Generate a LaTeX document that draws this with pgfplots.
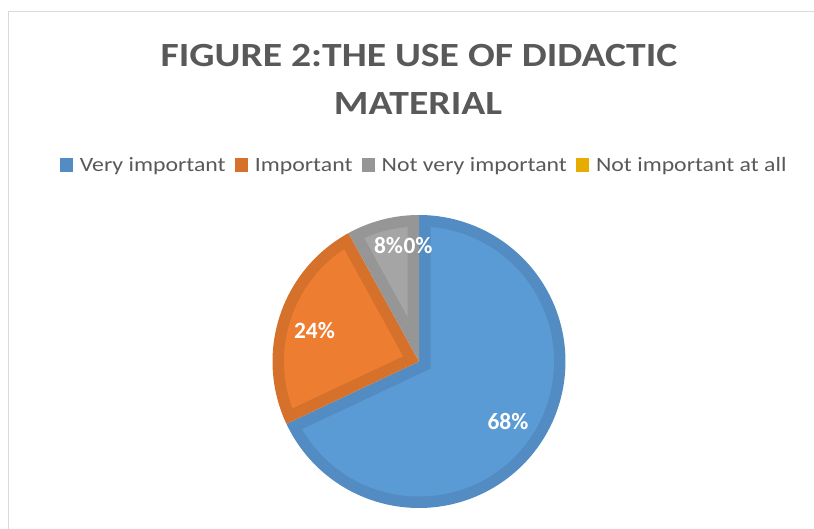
\documentclass[border=0pt]{standalone}
\usepackage{fontspec}
\setmainfont{Carlito}
\newfontfamily\stretchfont{Carlito}[FakeStretch=1.17]
\usepackage{pgfplots}
\pgfplotsset{compat=1.18}
\definecolor{blueL}{HTML}{5B9BD5}
\definecolor{blueD}{HTML}{528CC2}
\definecolor{orangeL}{HTML}{ED7D31}
\definecolor{orangeD}{HTML}{D6712C}
\definecolor{grayL}{HTML}{A5A5A5}
\definecolor{grayD}{HTML}{969696}
\definecolor{goldL}{HTML}{FFC000}
\definecolor{goldD}{HTML}{E6AD00}
\definecolor{textgray}{HTML}{595959}
\definecolor{framegray}{HTML}{D9D9D9}
% data (percent)
\def\vA{68}\def\vB{24}\def\vC{8}\def\vD{0}
% pie geometry (bp)
\def\cx{419}\def\cy{167.5}\def\R{146.5}\def\d{11.5}
\pgfmathsetmacro\aZ{90}
\pgfmathsetmacro\aA{90-3.6*\vA}
\pgfmathsetmacro\aB{\aA-3.6*\vB}
\pgfmathsetmacro\aC{\aB-3.6*\vC}
\pgfmathsetmacro\dl{asin(\d/(\R-\d))}
\pgfmathsetmacro\Ri{\R-\d}
% inset apex per slice
\pgfmathsetmacro\pAd{\d/sin((\aZ-\aA)/2)}\pgfmathsetmacro\pAp{(\aZ+\aA)/2}
\pgfmathsetmacro\pAx{\cx+\pAd*cos(\pAp)}\pgfmathsetmacro\pAy{\cy+\pAd*sin(\pAp)}
\pgfmathsetmacro\pBd{\d/sin((\aA-\aB)/2)}\pgfmathsetmacro\pBp{(\aA+\aB)/2}
\pgfmathsetmacro\pBx{\cx+\pBd*cos(\pBp)}\pgfmathsetmacro\pBy{\cy+\pBd*sin(\pBp)}
\pgfmathsetmacro\pCd{\d/sin((\aB-\aC)/2)}\pgfmathsetmacro\pCp{(\aB+\aC)/2}
\pgfmathsetmacro\pCx{\cx+\pCd*cos(\pCp)}\pgfmathsetmacro\pCy{\cy+\pCd*sin(\pCp)}
\pgfmathsetmacro\lAa{\aA+\dl}\pgfmathsetmacro\lAb{\aZ-\dl}
\pgfmathsetmacro\lBa{\aB+\dl}\pgfmathsetmacro\lBb{\aA-\dl}
\pgfmathsetmacro\lCa{\aC+\dl}\pgfmathsetmacro\lCb{\aB-\dl}
\begin{document}
\begin{tikzpicture}
\useasboundingbox (0,0) rectangle (814bp,529bp);
\clip (0,0) rectangle (814bp,529bp);
\fill[white] (0,0) rectangle (814bp,529bp);
\begin{axis}[x=1bp,y=1bp,xmin=0,xmax=814,ymin=0,ymax=529,
  scale only axis, hide axis, clip=false, anchor=south west, at={(0,0)},
  legend columns=4,
  legend image code/.code={\draw[#1,draw=none] (0bp,-6.65bp) rectangle (13.3bp,6.65bp);},
  legend style={draw=none, fill=none, inner sep=0pt, outer sep=0pt,
    column sep=6.6bp, at={(axis cs:423.3,364)}, anchor=center,
    nodes={inner sep=0pt, outer sep=0pt, text=textgray, text height=17.4bp, text depth=4bp,
      font=\stretchfont\fontsize{20.4}{24}\selectfont},
    /tikz/every even column/.append style={column sep=9.3bp}},
  ]
\draw[framegray, line width=1.3bp] (axis cs:8.5,-20) -- (axis cs:8.5,517.3) -- (axis cs:840,517.3);
% slices
\addplot[forget plot, fill=blueD, draw=none, domain=\aA:\aZ, samples=160]
  ({\cx+\R*cos(x)},{\cy+\R*sin(x)}) -- (axis cs:\cx,\cy) -- cycle;
\addplot[forget plot, fill=blueL, draw=none, domain=\lAa:\lAb, samples=160]
  ({\cx+\Ri*cos(x)},{\cy+\Ri*sin(x)}) -- (axis cs:\pAx,\pAy) -- cycle;
\addplot[forget plot, fill=orangeD, draw=none, domain=\aB:\aA, samples=80]
  ({\cx+\R*cos(x)},{\cy+\R*sin(x)}) -- (axis cs:\cx,\cy) -- cycle;
\addplot[forget plot, fill=orangeL, draw=none, domain=\lBa:\lBb, samples=80]
  ({\cx+\Ri*cos(x)},{\cy+\Ri*sin(x)}) -- (axis cs:\pBx,\pBy) -- cycle;
\addplot[forget plot, fill=grayD, draw=none, domain=\aC:\aB, samples=40]
  ({\cx+\R*cos(x)},{\cy+\R*sin(x)}) -- (axis cs:\cx,\cy) -- cycle;
\addplot[forget plot, fill=grayL, draw=none, domain=\lCa:\lCb, samples=40]
  ({\cx+\Ri*cos(x)},{\cy+\Ri*sin(x)}) -- (axis cs:\pCx,\pCy) -- cycle;
% legend
\addlegendimage{fill=blueD}\addlegendentry{Very important}
\addlegendimage{fill=orangeD}\addlegendentry{Important}
\addlegendimage{fill=grayD}\addlegendentry{Not very important}
\addlegendimage{fill=goldD}\addlegendentry{Not important at all}
% labels
\begin{scope}[every node/.style={anchor=base, text=white, font=\bfseries\fontsize{23.5}{28}\selectfont, inner sep=0pt}]
\node at (axis cs:508,99.7) {\vA\%};
\node at (axis cs:314.5,190.7) {\vB\%};
\node at (axis cs:388.5,275.7) {\vC\%};
\node at (axis cs:418,275.7) {\vD\%};
\end{scope}
% title
\begin{scope}[every node/.style={anchor=base, text=textgray, font=\stretchfont\bfseries\fontsize{34}{40}\selectfont, inner sep=0pt}]
\node at (axis cs:419,462.3) {FIGURE 2:THE USE OF DIDACTIC};
\node at (axis cs:418,414) {MATERIAL};
\end{scope}
\end{axis}
\end{tikzpicture}
\end{document}
